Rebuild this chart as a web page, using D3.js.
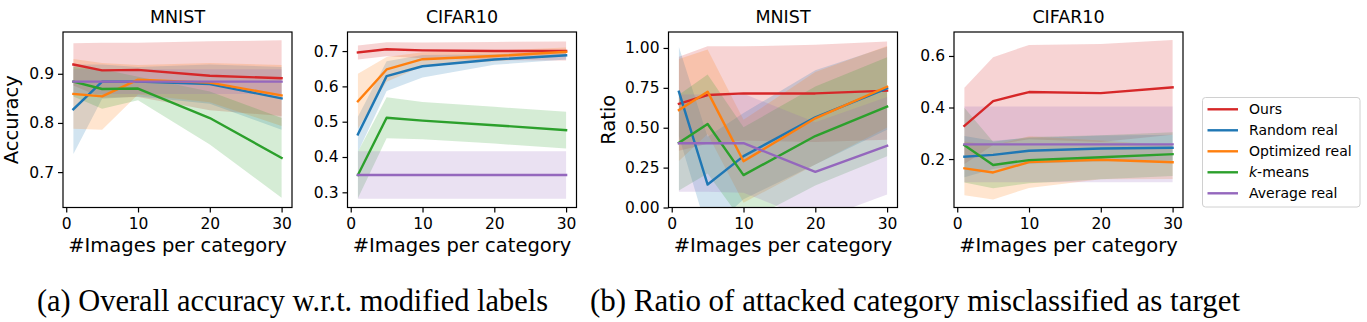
<!DOCTYPE html>
<html>
<head>
<meta charset="utf-8">
<script src="https://cdn.jsdelivr.net/npm/d3@7"></script>
<style>
  html, body { margin: 0; padding: 0; background: #fff; }
  svg { display: block; }
  text { font-family: "DejaVu Sans", sans-serif; fill: #000; }
</style>
</head>
<body>
<svg id="fig" width="1367" height="322"></svg>
<script>
// Number of images per category (shared x values)
const imagesPerCategory = [1, 5, 10, 20, 30];
const xTicks = [0, 10, 20, 30];

const methods = ["Ours", "Random real", "Optimized real", "k-means", "Average real"];
const methodColors = ["#d62728", "#1f77b4", "#ff7f0e", "#2ca02c", "#9467bd"];

// (a) accuracy, MNIST: mean and std per method
const accMnistMean = [
  [0.919, 0.907, 0.908, 0.896, 0.891],
  [0.828, 0.884, 0.884, 0.879, 0.850],
  [0.859, 0.854, 0.888, 0.882, 0.856],
  [0.884, 0.869, 0.870, 0.810, 0.729],
  [0.884, 0.884, 0.884, 0.884, 0.884]
];
const accMnistStd = [
  [0.043, 0.056, 0.055, 0.070, 0.077],
  [0.091, 0.035, 0.030, 0.040, 0.064],
  [0.071, 0.068, 0.030, 0.040, 0.062],
  [0.030, 0.040, 0.024, 0.054, 0.081],
  [0.025, 0.025, 0.025, 0.025, 0.025]
];

// (a) accuracy, CIFAR10
const accCifarMean = [
  [0.696, 0.705, 0.702, 0.700, 0.700],
  [0.464, 0.629, 0.657, 0.676, 0.688],
  [0.558, 0.648, 0.677, 0.686, 0.698],
  [0.349, 0.511, 0.503, 0.490, 0.476],
  [0.349, 0.349, 0.349, 0.349, 0.349]
];
const accCifarStd = [
  [0.020, 0.020, 0.022, 0.026, 0.027],
  [0.050, 0.042, 0.032, 0.015, 0.012],
  [0.078, 0.035, 0.020, 0.015, 0.012],
  [0.066, 0.058, 0.053, 0.052, 0.052],
  [0.067, 0.067, 0.067, 0.067, 0.067]
];

// (b) ratio misclassified as target, MNIST
const ratioMnistMean = [
  [0.650, 0.705, 0.715, 0.715, 0.732],
  [0.726, 0.144, 0.322, 0.565, 0.747],
  [0.611, 0.726, 0.290, 0.559, 0.757],
  [0.406, 0.523, 0.203, 0.448, 0.632],
  [0.403, 0.403, 0.403, 0.224, 0.387]
];
const ratioMnistStd = [
  [0.295, 0.305, 0.295, 0.305, 0.308],
  [0.280, 0.300, 0.270, 0.295, 0.260],
  [0.320, 0.265, 0.260, 0.290, 0.255],
  [0.300, 0.310, 0.300, 0.310, 0.310],
  [0.305, 0.305, 0.310, 0.310, 0.305]
];

// (b) ratio misclassified as target, CIFAR10
const ratioCifarMean = [
  [0.329, 0.425, 0.460, 0.456, 0.478],
  [0.209, 0.216, 0.232, 0.241, 0.244],
  [0.164, 0.148, 0.188, 0.197, 0.188],
  [0.254, 0.177, 0.196, 0.207, 0.219],
  [0.257, 0.257, 0.257, 0.257, 0.257]
];
const ratioCifarStd = [
  [0.148, 0.170, 0.183, 0.190, 0.184],
  [0.080, 0.055, 0.050, 0.050, 0.050],
  [0.104, 0.105, 0.100, 0.075, 0.065],
  [0.145, 0.090, 0.090, 0.085, 0.085],
  [0.147, 0.147, 0.147, 0.147, 0.147]
];

const accMnistTicks = [0.7, 0.8, 0.9];
const accCifarTicks = [0.3, 0.4, 0.5, 0.6, 0.7];
const ratioMnistTicks = [0, 0.25, 0.5, 0.75, 1.0];
const ratioCifarTicks = [0.2, 0.4, 0.6];

const panels = [
  { title: "MNIST", ylabel: "Accuracy", mean: accMnistMean, std: accMnistStd,
    yDomain: [0.628, 0.985], yTicks: accMnistTicks, fmt: d3.format(".1f"),
    left: 63, ylabelX: 17.5 },
  { title: "CIFAR10", ylabel: null, mean: accCifarMean, std: accCifarStd,
    yDomain: [0.257, 0.754], yTicks: accCifarTicks, fmt: d3.format(".1f"),
    left: 347.5 },
  { title: "MNIST", ylabel: "Ratio", mean: ratioMnistMean, std: ratioMnistStd,
    yDomain: [0, 1.10], yTicks: ratioMnistTicks, fmt: d3.format(".2f"),
    left: 668.5, ylabelX: 615 },
  { title: "CIFAR10", ylabel: null, mean: ratioCifarMean, std: ratioCifarStd,
    yDomain: [0.012, 0.693], yTicks: ratioCifarTicks, fmt: d3.format(".1f"),
    left: 954 }
];

const svg = d3.select("#fig");
const W = 229, H = 175.5, TOP = 32;
const xDomain = [-0.45, 31.45];

panels.forEach((p, pi) => {
  const x = d3.scaleLinear().domain(xDomain).range([0, W]);
  const y = d3.scaleLinear().domain(p.yDomain).range([H, 0]);
  const g = svg.append("g").attr("transform", `translate(${p.left},${TOP})`);

  const clipId = "clip" + pi;
  g.append("clipPath").attr("id", clipId)
    .append("rect").attr("width", W).attr("height", H);

  const plot = g.append("g").attr("clip-path", `url(#${clipId})`);

  const area = d3.area()
    .x((d, i) => x(imagesPerCategory[i]))
    .y0(d => y(d[0] - d[1]))
    .y1(d => y(d[0] + d[1]));
  const line = d3.line()
    .x((d, i) => x(imagesPerCategory[i]))
    .y(d => y(d));

  // std bands
  p.mean.forEach((m, k) => {
    const pts = m.map((v, i) => [v, p.std[k][i]]);
    plot.append("path").attr("d", area(pts))
      .attr("fill", methodColors[k]).attr("fill-opacity", 0.2);
  });
  // mean lines
  p.mean.forEach((m, k) => {
    plot.append("path").attr("d", line(m))
      .attr("fill", "none").attr("stroke", methodColors[k])
      .attr("stroke-width", 2.4)
      .attr("stroke-linejoin", "round").attr("stroke-linecap", "square");
  });

  // axes
  const xAxis = d3.axisBottom(x).tickValues(xTicks).tickSize(5).tickPadding(5)
    .tickFormat(d3.format("d"));
  const yAxis = d3.axisLeft(y).tickValues(p.yTicks).tickSize(5).tickPadding(4)
    .tickFormat(p.fmt);
  const gx = g.append("g").attr("transform", `translate(0,${H})`).call(xAxis);
  const gy = g.append("g").call(yAxis);
  [gx, gy].forEach(a => {
    a.select(".domain").remove();
    a.selectAll(".tick line").attr("stroke", "#000").attr("stroke-width", 1.2);
    a.selectAll(".tick text").attr("fill", "#111")
      .style("font-family", "'DejaVu Sans', sans-serif").style("font-size", "15.5px");
  });

  // frame
  g.append("rect").attr("width", W).attr("height", H)
    .attr("fill", "none").attr("stroke", "#000").attr("stroke-width", 1.2);

  // title
  g.append("text").attr("x", W / 2).attr("y", 23.3 - TOP)
    .attr("text-anchor", "middle").style("font-size", "17.5px").text(p.title);

  // x label
  g.append("text").attr("x", W / 2).attr("y", 252 - TOP)
    .attr("text-anchor", "middle").style("font-size", "19.5px")
    .text("#Images per category");

  // y label
  if (p.ylabel) {
    const lx = p.ylabelX - p.left;
    g.append("text")
      .attr("transform", `translate(${lx},${H / 2}) rotate(-90)`)
      .attr("text-anchor", "middle").style("font-size", "19.5px")
      .text(p.ylabel);
  }
});

// legend
const legend = svg.append("g").attr("transform", "translate(1202.5,97.5)");
legend.append("rect").attr("width", 157.5).attr("height", 109.5)
  .attr("rx", 3).attr("fill", "#fff").attr("stroke", "#d0d0d0").attr("stroke-width", 1);
methods.forEach((name, k) => {
  const yy = 11.8 + k * 21;
  legend.append("line").attr("x1", 5).attr("x2", 35.5).attr("y1", yy).attr("y2", yy)
    .attr("stroke", methodColors[k]).attr("stroke-width", 2.4);
  const t = legend.append("text").attr("x", 46.5).attr("y", yy + 5)
    .style("font-size", "14px");
  if (name === "k-means") {
    t.append("tspan").style("font-style", "italic").text("k");
    t.append("tspan").text("-means");
  } else {
    t.text(name);
  }
});

// sub-figure captions
svg.append("text").attr("x", 37).attr("y", 311)
  .style("font-family", "'Liberation Serif', 'Times New Roman', serif")
  .style("font-size", "30.5px")
  .attr("textLength", 511).attr("lengthAdjust", "spacingAndGlyphs")
  .text("(a) Overall accuracy w.r.t. modified labels");
svg.append("text").attr("x", 590).attr("y", 311)
  .style("font-family", "'Liberation Serif', 'Times New Roman', serif")
  .style("font-size", "30.5px")
  .attr("textLength", 650).attr("lengthAdjust", "spacingAndGlyphs")
  .text("(b) Ratio of attacked category misclassified as target");
</script>
</body>
</html>
